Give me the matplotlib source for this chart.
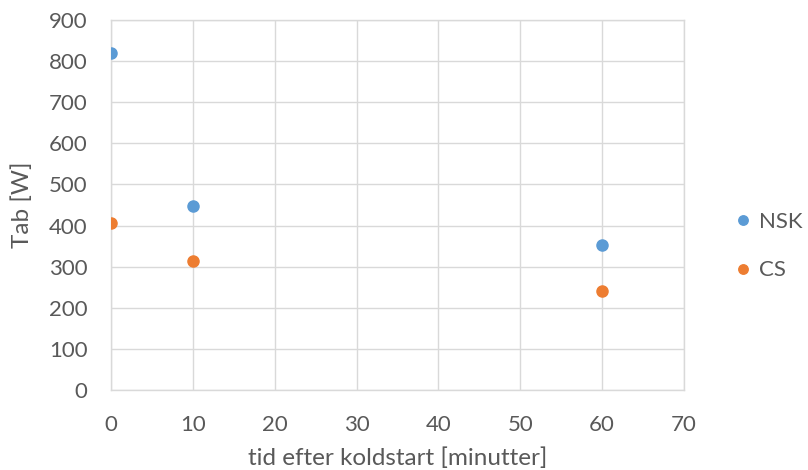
import matplotlib.pyplot as plt

plt.rcParams['font.family'] = ['Lato', 'DejaVu Sans']

# Measured losses after cold start
minutes = [0, 10, 60]
nsk = [820, 448, 352]
cs = [407, 314, 240]

labels = ['NSK', 'CS']
colors = ['#5B9BD5', '#ED7D31']
text_color = '#595959'
grid_color = '#D9D9D9'

fig = plt.figure(figsize=(8.08, 4.70), dpi=100)
ax = fig.add_axes([0.1374, 0.1702, 0.7091, 0.7872])

for values, label, color in zip([nsk, cs], labels, colors):
    ax.plot(minutes, values, linestyle='none', marker='o', markersize=8,
            color=color, label=label, zorder=3)

ax.set_xlim(0, 70)
ax.set_ylim(0, 900)
ax.set_xticks(range(0, 71, 10))
ax.set_yticks(range(0, 901, 100))
ax.grid(True, color=grid_color, linewidth=1)
ax.set_axisbelow(True)
for side, spine in ax.spines.items():
    spine.set_color(grid_color)
    spine.set_linewidth(1)
ax.tick_params(length=0, colors=text_color, labelsize=16)
ax.tick_params(axis='y', pad=17)
ax.tick_params(axis='x', pad=18)

ax.set_xlabel('tid efter koldstart [minutter]', color=text_color, fontsize=17.5, labelpad=9)
ax.set_ylabel('Tab [W]', color=text_color, fontsize=17.5, labelpad=11)

leg = fig.legend(loc='center left', bbox_to_anchor=(721 / 808, 1 - 246 / 470),
                 frameon=False, fontsize=16, handlelength=1.0, handletextpad=0.2,
                 labelspacing=1.3, markerscale=0.85, borderpad=0)
for t in leg.get_texts():
    t.set_color(text_color)

fig.savefig('out.png', dpi=100)
